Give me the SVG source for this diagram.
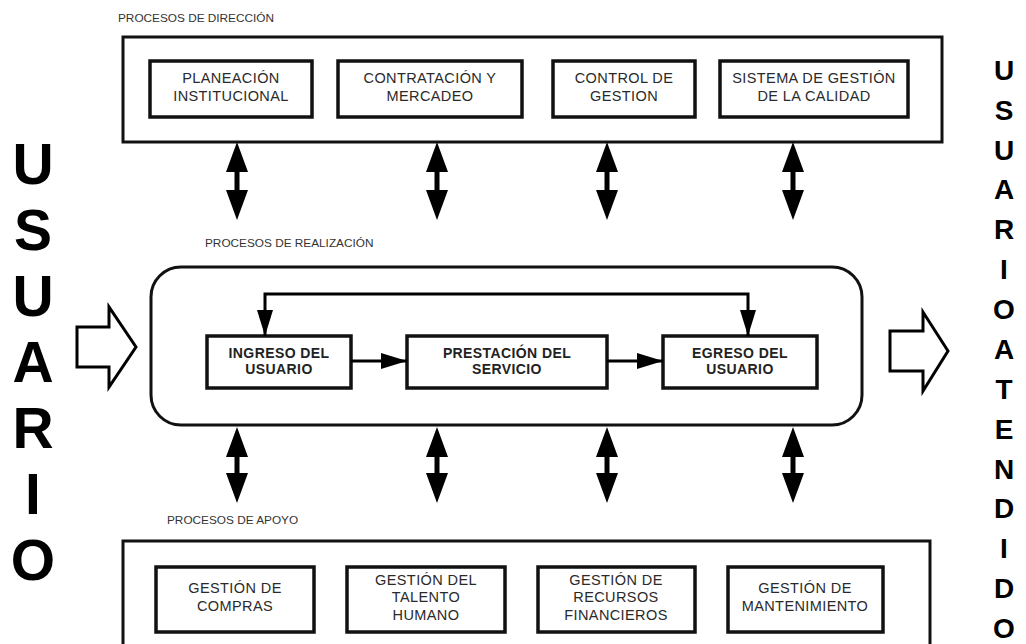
<svg xmlns="http://www.w3.org/2000/svg" width="1026" height="644" viewBox="0 0 1026 644">
  <defs>
    <style>
      .frame { fill: #fff; stroke: #111; stroke-width: 3; }
      .box { fill: #fff; stroke: #111; stroke-width: 3.5; }
      .lbl { font-family: "Liberation Sans", Arial, sans-serif; font-size: 14.5px; fill: #2a2a2a; text-anchor: middle; letter-spacing: 0.4px; }
      .lblb { font-family: "Liberation Sans", Arial, sans-serif; font-size: 14px; font-weight: bold; fill: #222; text-anchor: middle; letter-spacing: 0.4px; }
      .title { font-family: "Liberation Sans", Arial, sans-serif; font-size: 11.8px; fill: #333; }
      .big { font-family: "Liberation Sans", Arial, sans-serif; font-weight: bold; fill: #000; text-anchor: middle; }
      .dbl { fill: #000; }
      .flow { fill: none; stroke: #000; stroke-width: 3; }
      .block { fill: #fff; stroke: #000; stroke-width: 3; stroke-linejoin: miter; }
    </style>
    <marker id="tri" viewBox="0 0 26 16" refX="26" refY="8" markerWidth="26" markerHeight="16" markerUnits="userSpaceOnUse" orient="auto-start-reverse">
      <path d="M0,0 L26,8 L0,16 z" fill="#000"/>
    </marker>
  </defs>

  <!-- Section titles -->
  <text class="title" x="118" y="22">PROCESOS DE DIRECCIÓN</text>
  <text class="title" x="205" y="247">PROCESOS DE REALIZACIÓN</text>
  <text class="title" x="167" y="524">PROCESOS DE APOYO</text>

  <!-- Direction processes -->
  <g id="procesos-direccion">
    <rect class="frame" x="123" y="37" width="819" height="105"/>
  </g>
  <g id="planeacion">
    <rect class="box" x="150" y="61" width="162" height="56"/>
    <text class="lbl" x="231" y="83">PLANEACIÓN</text>
    <text class="lbl" x="231" y="101">INSTITUCIONAL</text>
  </g>
  <g id="contratacion">
    <rect class="box" x="338" y="61" width="184" height="56"/>
    <text class="lbl" x="430" y="83">CONTRATACIÓN Y</text>
    <text class="lbl" x="430" y="101">MERCADEO</text>
  </g>
  <g id="control">
    <rect class="box" x="553" y="61" width="142" height="56"/>
    <text class="lbl" x="624" y="83">CONTROL DE</text>
    <text class="lbl" x="624" y="101">GESTION</text>
  </g>
  <g id="calidad">
    <rect class="box" x="720" y="61" width="188" height="56"/>
    <text class="lbl" x="814" y="83">SISTEMA DE GESTIÓN</text>
    <text class="lbl" x="814" y="101">DE LA CALIDAD</text>
  </g>

  <!-- Realization processes -->
  <g id="procesos-realizacion">
    <rect class="frame" x="151" y="267" width="711" height="158" rx="30" ry="30"/>
  </g>
  <g id="ingreso">
    <rect class="box" x="207" y="336" width="144" height="52"/>
    <text class="lblb" x="279" y="358">INGRESO DEL</text>
    <text class="lblb" x="279" y="374">USUARIO</text>
  </g>
  <g id="prestacion">
    <rect class="box" x="407" y="336" width="200" height="52"/>
    <text class="lblb" x="507" y="358">PRESTACIÓN DEL</text>
    <text class="lblb" x="507" y="374">SERVICIO</text>
  </g>
  <g id="egreso">
    <rect class="box" x="663" y="336" width="154" height="52"/>
    <text class="lblb" x="740" y="358">EGRESO DEL</text>
    <text class="lblb" x="740" y="374">USUARIO</text>
  </g>

  <!-- Support processes -->
  <g id="procesos-apoyo">
    <rect class="frame" x="123" y="541" width="807" height="120"/>
  </g>
  <g id="compras">
    <rect class="box" x="156" y="567" width="158" height="65"/>
    <text class="lbl" x="235" y="593">GESTIÓN DE</text>
    <text class="lbl" x="235" y="611">COMPRAS</text>
  </g>
  <g id="talento">
    <rect class="box" x="347" y="567" width="158" height="65"/>
    <text class="lbl" x="426" y="585">GESTIÓN DEL</text>
    <text class="lbl" x="426" y="602">TALENTO</text>
    <text class="lbl" x="426" y="620">HUMANO</text>
  </g>
  <g id="recursos">
    <rect class="box" x="538" y="567" width="157" height="65"/>
    <text class="lbl" x="616" y="585">GESTIÓN DE</text>
    <text class="lbl" x="616" y="602">RECURSOS</text>
    <text class="lbl" x="616" y="620">FINANCIEROS</text>
  </g>
  <g id="mantenimiento">
    <rect class="box" x="728" y="567" width="155" height="65"/>
    <text class="lbl" x="805" y="593">GESTIÓN DE</text>
    <text class="lbl" x="805" y="611">MANTENIMIENTO</text>
  </g>

  <!-- Side labels -->
  <g id="usuario">
    <text class="big" font-size="57" x="33" y="184">U</text>
    <text class="big" font-size="57" x="33" y="250">S</text>
    <text class="big" font-size="57" x="33" y="316">U</text>
    <text class="big" font-size="57" x="33" y="382">A</text>
    <text class="big" font-size="57" x="33" y="448">R</text>
    <text class="big" font-size="57" x="33" y="514">I</text>
    <text class="big" font-size="57" x="33" y="580">O</text>
  </g>
  <g id="usuario-atendido">
    <text class="big" font-size="28" x="1004" y="80">U</text>
    <text class="big" font-size="28" x="1004" y="120">S</text>
    <text class="big" font-size="28" x="1004" y="160">U</text>
    <text class="big" font-size="28" x="1004" y="199">A</text>
    <text class="big" font-size="28" x="1004" y="239">R</text>
    <text class="big" font-size="28" x="1004" y="279">I</text>
    <text class="big" font-size="28" x="1004" y="319">O</text>
    <text class="big" font-size="28" x="1004" y="359">A</text>
    <text class="big" font-size="28" x="1004" y="399">T</text>
    <text class="big" font-size="28" x="1004" y="439">E</text>
    <text class="big" font-size="28" x="1004" y="479">N</text>
    <text class="big" font-size="28" x="1004" y="518">D</text>
    <text class="big" font-size="28" x="1004" y="558">I</text>
    <text class="big" font-size="28" x="1004" y="598">D</text>
    <text class="big" font-size="28" x="1004" y="638">O</text>
  </g>

  <!-- Connectors -->
  <g id="connectors">
    <!-- two-way arrows between direction and realization -->
    <polygon class="dbl" points="237,142 248,172 239.5,172 239.5,190 248,190 237,220 226,190 234.5,190 234.5,172 226,172"/>
    <polygon class="dbl" points="437,142 448,172 439.5,172 439.5,190 448,190 437,220 426,190 434.5,190 434.5,172 426,172"/>
    <polygon class="dbl" points="607,142 618,172 609.5,172 609.5,190 618,190 607,220 596,190 604.5,190 604.5,172 596,172"/>
    <polygon class="dbl" points="793,142 804,172 795.5,172 795.5,190 804,190 793,220 782,190 790.5,190 790.5,172 782,172"/>
    <!-- two-way arrows between realization and support -->
    <polygon class="dbl" points="237,427 248,457 239.5,457 239.5,473 248,473 237,503 226,473 234.5,473 234.5,457 226,457"/>
    <polygon class="dbl" points="437,427 448,457 439.5,457 439.5,473 448,473 437,503 426,473 434.5,473 434.5,457 426,457"/>
    <polygon class="dbl" points="607,427 618,457 609.5,457 609.5,473 618,473 607,503 596,473 604.5,473 604.5,457 596,457"/>
    <polygon class="dbl" points="793,427 804,457 795.5,457 795.5,473 804,473 793,503 782,473 790.5,473 790.5,457 782,457"/>
    <!-- flow inside realization -->
    <path class="flow" d="M351,361 H407" marker-end="url(#tri)"/>
    <path class="flow" d="M607,361 H663" marker-end="url(#tri)"/>
    <path class="flow" d="M265,336 V294 H748 V336" marker-start="url(#tri)" marker-end="url(#tri)"/>
    <!-- entry and exit block arrows -->
    <polygon class="block" points="77,327 109,327 109,307 136,347 109,387 109,367 77,367"/>
    <polygon class="block" points="890,331 923,331 923,312 948,351 923,391 923,371 890,371"/>
  </g>
</svg>
